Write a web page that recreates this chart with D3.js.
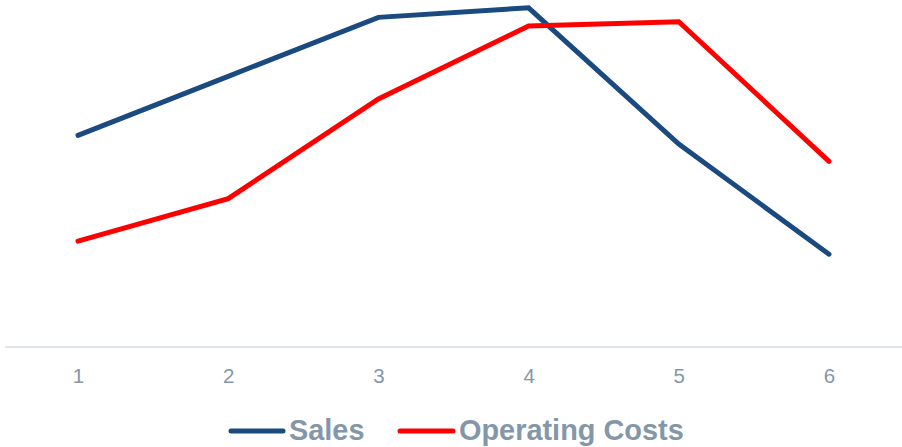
<!DOCTYPE html>
<html>
<head>
<meta charset="utf-8">
<script src="https://cdn.jsdelivr.net/npm/d3@7/dist/d3.min.js"></script>
<style>
  html, body { margin: 0; padding: 0; background: #ffffff; }
  svg { display: block; }
</style>
</head>
<body>
<svg id="chart" width="902" height="447"></svg>
<script>
const categories = ["1", "2", "3", "4", "5", "6"];
const salesValues = [24.4, 31.2, 38.0, 39.1, 23.4, 10.7];
const costValues = [12.2, 17.1, 28.6, 37.0, 37.5, 21.4];
const seriesNames = ["Sales", "Operating Costs"];
const seriesColors = ["#1A4A7F", "#FF0000"];

const series = [
  { name: seriesNames[0], color: seriesColors[0], values: salesValues },
  { name: seriesNames[1], color: seriesColors[1], values: costValues }
];

const svg = d3.select("#chart");
const W = 902, H = 447;
const baseY = 347;

const x = d3.scalePoint().domain(categories).range([78, 829]);
const y = d3.scaleLinear().domain([0, 40]).range([baseY, 0]);

// baseline
svg.append("line")
  .attr("x1", 5).attr("x2", W)
  .attr("y1", baseY).attr("y2", baseY)
  .attr("stroke", "#DFE5EA").attr("stroke-width", 2);

// x axis labels
const xAxis = d3.axisBottom(x).tickSize(0).tickPadding(0);
const gx = svg.append("g").attr("transform", `translate(0,${baseY})`).call(xAxis);
gx.select(".domain").remove();
gx.selectAll("text")
  .attr("y", 36)
  .attr("dy", 0)
  .attr("fill", "#8497A8")
  .style("font-family", "'Liberation Sans', Arial, sans-serif")
  .style("font-size", "20.5px");

// lines
const line = d3.line()
  .x((d, i) => x(categories[i]))
  .y(d => y(d));

series.forEach(s => {
  svg.append("path")
    .datum(s.values)
    .attr("fill", "none")
    .attr("stroke", s.color)
    .attr("stroke-width", 5)
    .attr("stroke-linejoin", "miter")
    .attr("stroke-linecap", "round")
    .attr("d", line);
});

// legend
const legendY = 431;
const legendItems = [
  { x1: 231, x2: 283, tx: 289 },
  { x1: 400, x2: 453, tx: 459 }
];
series.forEach((s, i) => {
  const it = legendItems[i];
  svg.append("line")
    .attr("x1", it.x1).attr("x2", it.x2)
    .attr("y1", legendY).attr("y2", legendY)
    .attr("stroke", s.color).attr("stroke-width", 5)
    .attr("stroke-linecap", "round");
  svg.append("text")
    .attr("x", it.tx).attr("y", 440)
    .attr("fill", "#8497A8")
    .style("font-family", "'Liberation Sans', Arial, sans-serif")
    .style("font-size", "28.9px")
    .style("font-weight", "bold")
    .text(s.name);
});
</script>
</body>
</html>
